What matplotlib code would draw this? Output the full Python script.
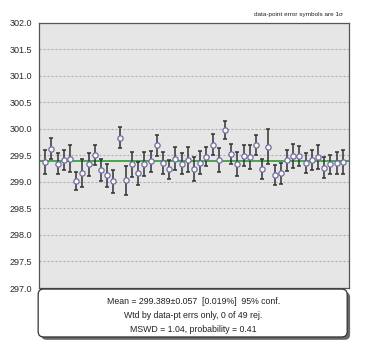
import matplotlib.pyplot as plt
from matplotlib.patches import FancyBboxPatch
import numpy as np

plt.rcParams['font.family'] = ['Liberation Sans', 'DejaVu Sans']

# measured ages and 1-sigma errors, 49 points
values = [299.375, 299.625, 299.34, 299.42, 299.44, 299.01, 299.17, 299.33, 299.51, 299.22,
          299.125, 299.01, 299.83, 299.03, 299.33, 299.16, 299.34, 299.39, 299.69, 299.36,
          299.24, 299.44, 299.34, 299.42, 299.24, 299.36, 299.47, 299.70, 299.41, 299.97,
          299.53, 299.34, 299.49, 299.47, 299.70, 299.24, 299.66, 299.125, 299.16, 299.41,
          299.49, 299.49, 299.36, 299.42, 299.47, 299.27, 299.33, 299.36, 299.375]
errors = [0.225, 0.20, 0.20, 0.19, 0.25, 0.17, 0.26, 0.22, 0.19, 0.21,
          0.22, 0.22, 0.20, 0.27, 0.23, 0.21, 0.22, 0.20, 0.20, 0.21,
          0.18, 0.22, 0.20, 0.23, 0.23, 0.22, 0.18, 0.20, 0.22, 0.17,
          0.19, 0.22, 0.20, 0.23, 0.19, 0.19, 0.33, 0.19, 0.20, 0.20,
          0.22, 0.19, 0.19, 0.19, 0.23, 0.19, 0.18, 0.21, 0.22]
mean_age = 299.389
yticks = [297.0, 297.5, 298.0, 298.5, 299.0, 299.5, 300.0, 300.5, 301.0, 301.5, 302.0]
summary = ["Mean = 299.389\u00b10.057  [0.019%]  95% conf.",
           "Wtd by data-pt errs only, 0 of 49 rej.",
           "MSWD = 1.04, probability = 0.41"]

x = np.arange(1, len(values) + 1)

fig = plt.figure(figsize=(3.67, 3.6), dpi=100)
ax = fig.add_axes([0.106, 0.2, 0.845, 0.737])
ax.set_facecolor('#e6e6e6')

ax.errorbar(x, values, yerr=errors, fmt='none', ecolor='#333333', elinewidth=1.1,
            capsize=1.6, capthick=1.1, zorder=3)
ax.axhline(mean_age, color='#3aa040', lw=1.3, zorder=2)
ax.plot(x, values, 'o', ms=3.8, mfc='#fffbd6', mec='#6a6ab8', mew=0.9, zorder=4)

ax.set_xlim(0, 50)
ax.set_ylim(297.0, 302.0)
ax.set_yticks(yticks)
ax.set_yticklabels(['%.1f' % t for t in yticks], fontsize=6.5, color='#2a2a2a')
ax.set_xticks([])
ax.tick_params(axis='y', length=0, pad=5)
ax.yaxis.grid(True, ls=(0, (1.8, 1.8)), color='#aaaaaa', lw=0.8)
for s in ax.spines.values():
    s.set_color('#555555')
    s.set_linewidth(0.9)

fig.text(0.935, 0.952, "data-point error symbols are 1\u03c3", fontsize=4.6,
         ha='right', va='bottom', color='#222222')

# summary box with shadow
shadow = FancyBboxPatch((0.112, 0.056), 0.842, 0.133, boxstyle='round,pad=0,rounding_size=0.015',
                        transform=fig.transFigure, fc='#6a6a6a', ec='none', zorder=5)
box = FancyBboxPatch((0.104, 0.064), 0.842, 0.133, boxstyle='round,pad=0,rounding_size=0.015',
                     transform=fig.transFigure, fc='white', ec='#333333', lw=0.9, zorder=6)
fig.patches.extend([shadow, box])
for i, line in enumerate(summary):
    fig.text(0.527, 0.163 - i * 0.039, line, fontsize=6.3, ha='center', va='center',
             color='#222222', zorder=7)

fig.savefig('out.png', dpi=100, facecolor='white')
